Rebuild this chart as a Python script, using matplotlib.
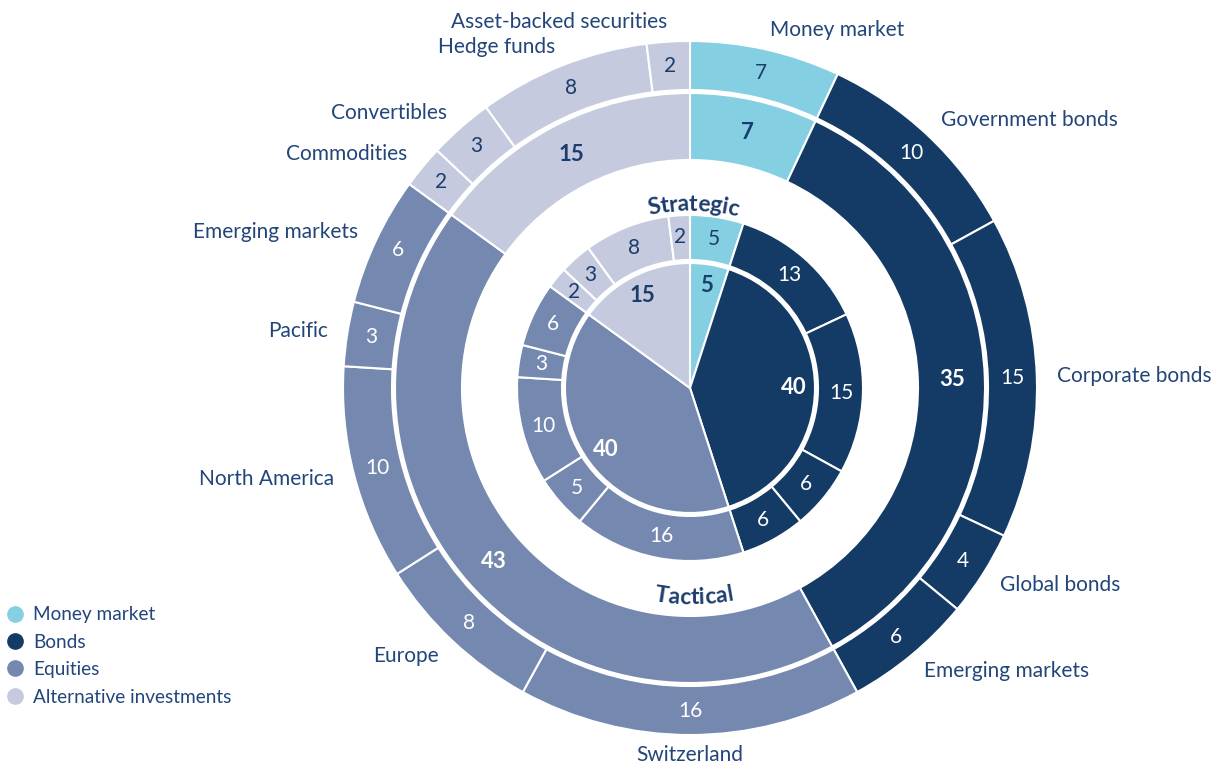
import numpy as np
import matplotlib.pyplot as plt
from matplotlib.font_manager import FontProperties
from matplotlib.lines import Line2D

FONT = 'Lato'

# asset classes (clockwise from the top)
groups = ['Money market', 'Bonds', 'Equities', 'Alternative investments']
group_colors = ['#85cfe3', '#143b66', '#7589b0', '#c5cadf']

sub_names = ['Money market',
             'Government bonds', 'Corporate bonds', 'Global bonds', 'Emerging markets',
             'Switzerland', 'Europe', 'North America', 'Pacific', 'Emerging markets',
             'Commodities', 'Convertibles', 'Hedge funds', 'Asset-backed securities']
sub_group = [0, 1, 1, 1, 1, 2, 2, 2, 2, 2, 3, 3, 3, 3]

strategic_main = [5, 40, 40, 15]
strategic_sub = [5, 13, 15, 6, 6, 16, 5, 10, 3, 6, 2, 3, 8, 2]
tactical_main = [7, 35, 43, 15]
tactical_sub = [7, 10, 15, 4, 6, 16, 8, 10, 3, 6, 2, 3, 8, 2]

TXT = '#22457a'
DARK_NUM = '#1b3d6c'
light_groups = {0, 3}

fig = plt.figure(figsize=(12.27, 7.69), dpi=100)
ax = fig.add_axes([0, 0, 1, 1])

sub_colors = [group_colors[g] for g in sub_group]
edge = dict(edgecolor='white', linewidth=1.5)


def ring(values, colors, radius, width=None):
    wp = dict(edge)
    if width is not None:
        wp['width'] = width
    wedges, _ = ax.pie(values, radius=radius, colors=colors, startangle=90,
                       counterclock=False, wedgeprops=wp)
    return wedges


def mid_xy(w, r):
    a = np.deg2rad((w.theta1 + w.theta2) / 2)
    return r * np.cos(a), r * np.sin(a), a


def numbers(wedges, values, gidx, r, weight, size):
    for w, v, g in zip(wedges, values, gidx):
        x, y, _ = mid_xy(w, r)
        col = DARK_NUM if g in light_groups else 'white'
        ax.text(x, y, str(v), ha='center', va='center', color=col,
                fontsize=size, fontweight=weight, family=FONT)


# tactical (outer) rings
w_tsub = ring(tactical_sub, sub_colors, 347, 49)
w_tmain = ring(tactical_main, group_colors, 295, 67)
# strategic (inner) ring + pie
w_ssub = ring(strategic_sub, sub_colors, 173, 45)
w_smain = ring(strategic_main, group_colors, 125)

numbers(w_tsub, tactical_sub, sub_group, 323, 'normal', 15)
numbers(w_tmain, tactical_main, range(4), 262, 'bold', 16)
numbers(w_ssub, strategic_sub, sub_group, 151, 'normal', 15)
numbers(w_smain, strategic_main, range(4), 104, 'bold', 16)

# category names around the outside
for w, name in zip(w_tsub, sub_names):
    x, y, a = mid_xy(w, 367)
    c = np.cos(a)
    ha = 'center' if abs(c) < 0.02 else ('left' if c > 0 else 'right')
    ax.text(x, y, name, ha=ha, va='center', color=TXT, fontsize=15, family=FONT)


def arc_text(text, radius, center_deg, top=True):
    fp = FontProperties(family=FONT, weight='bold', size=16.5)
    rend = fig.canvas.get_renderer()

    def width(s):
        if not s:
            return 0.0
        return rend.get_text_width_height_descent(s, fp, ismath=False)[0]

    total = width(text)
    for i, ch in enumerate(text):
        s = width(text[:i]) + width(ch) / 2 - total / 2
        a = s / radius
        if top:
            phi = np.deg2rad(center_deg) - a
            rot = -np.rad2deg(a)
        else:
            phi = np.deg2rad(center_deg) + a
            rot = np.rad2deg(a)
        ax.text(radius * np.cos(phi), radius * np.sin(phi), ch, rotation=rot,
                rotation_mode='anchor', ha='center', va='center',
                fontproperties=fp, color=DARK_NUM)


arc_text('Strategic', 184, 89, top=True)
arc_text('Tactical', 210, -89, top=False)

handles = [Line2D([], [], marker='o', linestyle='none', markersize=11,
                  markerfacecolor=c, markeredgecolor=c) for c in group_colors]
ax.legend(handles, groups, loc='lower left', bbox_to_anchor=(0.0, 0.075),
          frameon=False, handlelength=1.0, handletextpad=0.45, labelspacing=0.55,
          borderaxespad=0, borderpad=0.3, prop=dict(family=FONT, size=13.7),
          labelcolor=TXT)

ax.set_xlim(-690, 537)
ax.set_ylim(-381, 388)
ax.set_aspect('equal')
ax.axis('off')

fig.savefig('out.png', dpi=100)
